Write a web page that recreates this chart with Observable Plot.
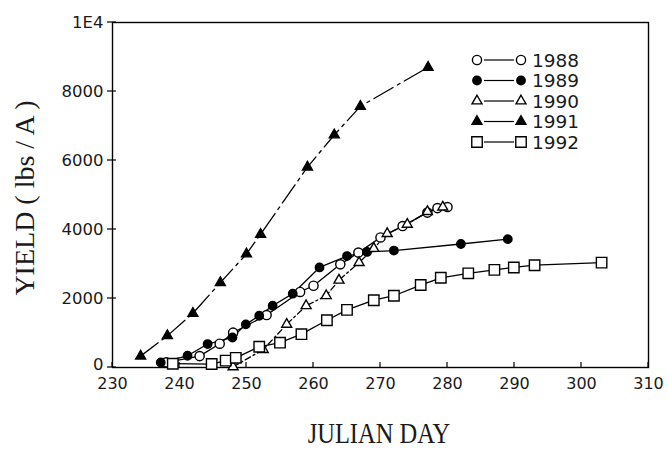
<!DOCTYPE html>
<html><head><meta charset="utf-8">
<script src="https://cdn.jsdelivr.net/npm/d3@7"></script>
<script src="https://cdn.jsdelivr.net/npm/@observablehq/plot@0.6"></script>
<style>
html,body{margin:0;padding:0;background:#fff;}
#chart{width:668px;height:449px;overflow:hidden;}
</style></head><body><div id="chart"></div>
<script>
const years = ["1988", "1989", "1990", "1991", "1992"];

const day1988 = [238, 243, 246, 248, 253, 258, 260, 264, 266.7, 270, 273.3, 277, 278.5, 280];
const yield1988 = [150, 330, 690, 1010, 1520, 2190, 2370, 2990, 3330, 3770, 4100, 4490, 4620, 4650];

const day1989 = [237.2, 241.2, 244.2, 247.9, 249.9, 251.9, 253.9, 256.9, 260.9, 265, 268, 272, 282, 289];
const yield1989 = [145, 340, 680, 870, 1250, 1500, 1790, 2140, 2900, 3230, 3350, 3390, 3580, 3720];

const day1990 = [248, 252.5, 256, 258.9, 261.9, 263.8, 266.8, 269, 271, 274, 277, 279.3];
const yield1990 = [20, 520, 1250, 1790, 2080, 2530, 3040, 3450, 3880, 4150, 4520, 4650];

const day1991 = [234.2, 238.2, 242, 246.1, 250, 252.1, 259.1, 263.1, 267, 277.1];
const yield1991 = [330, 920, 1570, 2460, 3290, 3860, 5810, 6740, 7570, 8700];

const day1992 = [239, 244.8, 246.9, 248.4, 251.9, 255, 258.2, 262, 265, 269, 272, 276, 279, 283.1, 287, 289.9, 293, 303];
const yield1992 = [110, 100, 200, 280, 600, 720, 966, 1370, 1670, 1950, 2080, 2390, 2600, 2730, 2830, 2900, 2965, 3040];

const xTicks = [230, 240, 250, 260, 270, 280, 290, 300, 310];
const yTicks = [0, 2000, 4000, 6000, 8000, 10000];
const yTickLabels = ["0", "2000", "4000", "6000", "8000", "1E4"];
const xTitle = "JULIAN DAY";
const yTitle = "YIELD ( lbs / A )";

const daysBy = {"1988": day1988, "1989": day1989, "1990": day1990, "1991": day1991, "1992": day1992};
const yieldsBy = {"1988": yield1988, "1989": yield1989, "1990": yield1990, "1991": yield1991, "1992": yield1992};

// styles per series
const style = {
  "1988": {symbol: "circle", fill: "white", dash: null, r: 4.6},
  "1989": {symbol: "circle", fill: "black", dash: null, r: 4.2},
  "1990": {symbol: "triangle", fill: "white", dash: "6,3,2,3", r: 3.7},
  "1991": {symbol: "triangle", fill: "black", dash: "22,5,3,5", r: 3.7},
  "1992": {symbol: "square", fill: "white", dash: null, r: 5.9}
};

const rows = years.flatMap(yr => daysBy[yr].map((d, i) => ({year: yr, day: d, yield: yieldsBy[yr][i]})));

const symbolType = {circle: d3.symbolCircle, triangle: d3.symbolTriangle, square: d3.symbolSquare};
const sansFont = "DejaVu Sans, Verdana, sans-serif";
const serifFont = "Liberation Serif, Times New Roman, serif";
const yLabel = d => yTickLabels[yTicks.indexOf(d)];

function decorations(index, scales, values, dimensions) {
  const g = d3.create("svg:g");
  const sx = scales.x, sy = scales.y;
  const {marginLeft, marginBottom, height} = dimensions;
  const axisY = height - marginBottom;
  // x ticks (inward)
  xTicks.forEach(t => {
    g.append("line").attr("x1", sx(t)).attr("x2", sx(t)).attr("y1", axisY).attr("y2", axisY - 5)
      .attr("stroke", "black").attr("stroke-width", 1.2);
  });
  // y ticks (crossing)
  yTicks.forEach(t => {
    g.append("line").attr("x1", marginLeft - 5).attr("x2", marginLeft + 4).attr("y1", sy(t)).attr("y2", sy(t))
      .attr("stroke", "black").attr("stroke-width", 1.2);
  });
  // Legend
  const lx = 477, ly = 60, step = 20.5;
  years.forEach((yr, i) => {
    const s = style[yr];
    const y = ly + i * step;
    const sym = d3.symbol().type(symbolType[s.symbol]).size(Math.PI * s.r * s.r)();
    g.append("line").attr("x1", lx + 7).attr("x2", lx + 37).attr("y1", y).attr("y2", y)
      .attr("stroke", "black").attr("stroke-width", 1.2);
    [lx, lx + 44].forEach(x => {
      g.append("path").attr("d", sym).attr("transform", `translate(${x},${y})`)
        .attr("fill", s.fill).attr("stroke", "black").attr("stroke-width", 1.4);
    });
    g.append("text").attr("x", lx + 55).attr("y", y + 6.7).text(yr)
      .attr("text-anchor", "start")
      .attr("font-family", sansFont).attr("font-size", 18.5)
      .attr("fill", "#1a1a1a");
  });
  // Axis titles
  g.append("text").attr("transform", "translate(379,443) scale(1,1.2)").attr("text-anchor", "middle")
    .attr("font-family", serifFont).attr("font-size", 24.5)
    .attr("fill", "#1a1a1a").text(xTitle);
  g.append("text").attr("transform", "translate(34,198) rotate(-90)").attr("text-anchor", "middle")
    .attr("font-family", serifFont).attr("font-size", 28)
    .attr("fill", "#1a1a1a").text(yTitle);
  return g.node();
}

const marks = [
  Plot.frame({stroke: "black", strokeWidth: 1.4}),
  Plot.axisY({ticks: yTicks.slice(0, 1), tickFormat: yLabel, tickSize: 0, tickPadding: 9, label: null, dy: -3}),
  Plot.axisY({ticks: yTicks.slice(1), tickFormat: yLabel, tickSize: 0, tickPadding: 9, label: null}),
  Plot.axisX({ticks: xTicks, tickSize: 0, tickPadding: 10, label: null, fontSize: 16})
];
years.forEach(yr => {
  const s = style[yr];
  const data = rows.filter(d => d.year === yr);
  marks.push(Plot.line(data, {x: "day", y: "yield", stroke: "black", strokeWidth: 1.3, strokeDasharray: s.dash}));
});
years.forEach(yr => {
  const s = style[yr];
  const data = rows.filter(d => d.year === yr);
  marks.push(Plot.dot(data, {x: "day", y: "yield", symbol: s.symbol, fill: s.fill, stroke: "black", strokeWidth: 1.4, r: s.r}));
});
marks.push(decorations);

const chart = Plot.plot({
  width: 668,
  height: 449,
  marginTop: 22,
  marginRight: 20,
  marginBottom: 82,
  marginLeft: 112,
  x: {domain: [230, 310]},
  y: {domain: [0, 10000]},
  style: {fontFamily: sansFont, fontSize: "16.5px", color: "#1a1a1a", background: "white"},
  marks
});
document.getElementById("chart").appendChild(chart);
</script>
</body></html>
